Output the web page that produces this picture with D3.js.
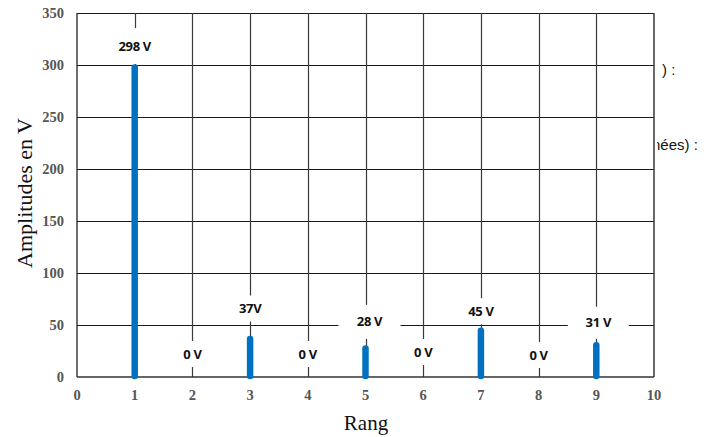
<!DOCTYPE html>
<html><head><meta charset="utf-8">
<script src="https://cdn.jsdelivr.net/npm/d3@7"></script>
<style>
html,body{margin:0;padding:0;background:#fff;}
svg{display:block;}
</style></head>
<body>
<script>
// ---- data ----
const ranks = [1, 2, 3, 4, 5, 6, 7, 8, 9];
const amplitudes = [298, 0, 37, 0, 28, 0, 45, 0, 31];
const valueLabels = ["298 V", "0 V", "37V", "0 V", "28 V", "0 V", "45 V", "0 V", "31 V"];
const xTicks = [0, 1, 2, 3, 4, 5, 6, 7, 8, 9, 10];
const yTicks = [0, 50, 100, 150, 200, 250, 300, 350];
const xTitle = "Rang";
const yTitle = "Amplitudes en V";

// ---- layout ----
const W = 713, H = 437;
const svg = d3.select("body").append("svg").attr("width", W).attr("height", H);
const x = d3.scaleLinear().domain([0, 10]).range([77, 654]);
const y = d3.scaleLinear().domain([0, 350]).range([377, 13]);

// label placement (pixel lift above bar top, box size)
const labelLift = [21, 23, 30, 23, 26, 25, 19, 22, 22];
const labelDx = [0, 0, 0, 0, 4, 0, 0, 0, 2];
const boxW = [42, 30, 30, 30, 62, 30, 36, 30, 61];
const boxH = [36, 26, 26, 26, 34, 26, 26, 26, 32];

// horizontal grid
svg.append("g").selectAll("line").data(yTicks.filter(d => d > 0)).join("line")
  .attr("x1", x(0)).attr("x2", x(10))
  .attr("y1", d => y(d) + 0.5).attr("y2", d => y(d) + 0.5)
  .attr("stroke", "#1a1a1a").attr("stroke-width", 1.2);

// vertical grid
svg.append("g").selectAll("line").data(xTicks.filter(d => d > 0 && d < 10)).join("line")
  .attr("x1", d => Math.round(x(d)) + 0.5).attr("x2", d => Math.round(x(d)) + 0.5)
  .attr("y1", y(350)).attr("y2", y(0))
  .attr("stroke", "#3a3a3a").attr("stroke-width", 1.2);

// frame
svg.append("line").attr("x1", x(0)).attr("x2", x(0)).attr("y1", y(350)).attr("y2", y(0))
  .attr("stroke", "#222").attr("stroke-width", 1.3);
svg.append("line").attr("x1", x(10)).attr("x2", x(10)).attr("y1", y(350)).attr("y2", y(0))
  .attr("stroke", "#444").attr("stroke-width", 1.6);

// label boxes (white, occluding grid)
const g = svg.append("g");
g.selectAll("rect").data(ranks).join("rect")
  .attr("x", (d, i) => x(d) + labelDx[i] - boxW[i] / 2)
  .attr("y", (d, i) => y(amplitudes[i]) - labelLift[i] - boxH[i] / 2)
  .attr("width", (d, i) => boxW[i]).attr("height", (d, i) => boxH[i])
  .attr("fill", "#fff");

// x axis line
svg.append("line").attr("x1", x(0)).attr("x2", x(10)).attr("y1", y(0)).attr("y2", y(0))
  .attr("stroke", "#333").attr("stroke-width", 1.5);

// bars (sticks)
svg.append("g").selectAll("line").data(ranks.filter((d, i) => amplitudes[i] > 0)).join("line")
  .attr("x1", d => x(d)).attr("x2", d => x(d))
  .attr("y1", y(0) - 1)
  .attr("y2", d => y(amplitudes[ranks.indexOf(d)]) + 0.5)
  .attr("stroke", "#0070C0").attr("stroke-width", 6.5).attr("stroke-linecap", "round");

// value labels
svg.append("g").selectAll("text").data(ranks).join("text")
  .attr("x", (d, i) => x(d) + labelDx[i])
  .attr("y", (d, i) => y(amplitudes[i]) - labelLift[i])
  .attr("dy", "0.35em")
  .attr("text-anchor", "middle")
  .attr("font-family", "Open Sans, Liberation Sans, sans-serif")
  .attr("font-weight", "bold").attr("font-size", 13).attr("fill", "#111")
  .attr("letter-spacing", "-0.3")
  .text((d, i) => valueLabels[i]);

// tick labels
const tickFont = "Liberation Serif, Times New Roman, serif";
svg.append("g").selectAll("text").data(xTicks).join("text")
  .attr("x", d => x(d)).attr("y", 395).attr("dy", "0.35em")
  .attr("text-anchor", "middle").attr("font-family", tickFont)
  .attr("font-weight", "bold").attr("font-size", 14.5).attr("fill", "#555")
  .text(d => d);
svg.append("g").selectAll("text").data(yTicks).join("text")
  .attr("x", 64).attr("y", d => y(d)).attr("dy", "0.35em")
  .attr("text-anchor", "end").attr("font-family", tickFont)
  .attr("font-weight", "bold").attr("font-size", 14.5).attr("fill", "#555")
  .text(d => d);

// axis titles
svg.append("text").attr("x", 366).attr("y", 423).attr("dy", "0.35em")
  .attr("text-anchor", "middle").attr("font-family", tickFont)
  .attr("font-size", 21).attr("fill", "#111").text(xTitle);
svg.append("text").attr("transform", "translate(24,193) rotate(-90)")
  .attr("dy", "0.35em").attr("text-anchor", "middle").attr("font-family", tickFont)
  .attr("font-size", 22).attr("fill", "#111").text(yTitle);

// cropped document text at right edge
svg.append("defs").append("clipPath").attr("id", "rc")
  .append("rect").attr("x", 657).attr("y", 0).attr("width", 60).attr("height", H);
const rt = svg.append("g").attr("clip-path", "url(#rc)")
  .attr("font-family", "Liberation Sans, Arial, sans-serif").attr("font-size", 15).attr("fill", "#111");
rt.append("text").attr("x", 662).attr("y", 70).attr("dy", "0.35em").text(") :");
rt.append("text").attr("x", 652).attr("y", 145).attr("dy", "0.35em").text("nées) :");
</script>
</body></html>
